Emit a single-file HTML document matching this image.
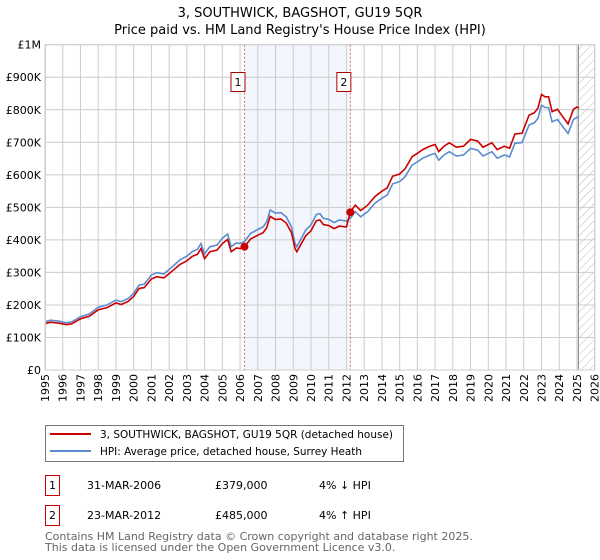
<!DOCTYPE html>
<html><head><meta charset="utf-8">
<style>
body{margin:0;background:#fff;}
svg{display:block;font-family:"DejaVu Sans","Liberation Sans",sans-serif;}
</style></head>
<body>
<svg id="chart" width="600" height="560" viewBox="0 0 600 560">
<text x="300" y="17" text-anchor="middle" font-size="13" fill="#000">3, SOUTHWICK, BAGSHOT, GU19 5QR</text>
<text x="300" y="34" text-anchor="middle" font-size="13" fill="#000">Price paid vs. HM Land Registry's House Price Index (HPI)</text>
<defs>
<pattern id="hatch" width="6" height="6" patternUnits="userSpaceOnUse" patternTransform="rotate(45)">
<line x1="0" y1="0" x2="0" y2="6" stroke="#bbb" stroke-width="1"/>
</pattern>
<clipPath id="plotclip"><rect x="45" y="44" width="550" height="327"/></clipPath>
</defs>
<g id="grid"></g>
<g id="marks" clip-path="url(#plotclip)"></g>
<g id="axes"></g>
<g id="legend">
<rect x="45.5" y="425.5" width="358" height="36" fill="#fff" stroke="#777"/>
<line x1="50" y1="434" x2="91" y2="434" stroke="#cc0000" stroke-width="2"/>
<text x="100" y="438" font-size="11" textLength="293" lengthAdjust="spacingAndGlyphs">3, SOUTHWICK, BAGSHOT, GU19 5QR (detached house)</text>
<line x1="50" y1="451" x2="91" y2="451" stroke="#5b8bd0" stroke-width="2"/>
<text x="100" y="455" font-size="11" textLength="262" lengthAdjust="spacingAndGlyphs">HPI: Average price, detached house, Surrey Heath</text>
</g>
<g id="table" font-size="11">
<rect x="45.5" y="475.5" width="14" height="20" fill="#fff" stroke="#cc0000"/>
<text x="52.5" y="489" text-anchor="middle">1</text>
<text x="87" y="489">31-MAR-2006</text>
<text x="215" y="489">£379,000</text>
<text x="319" y="489">4% ↓ HPI</text>
<rect x="45.5" y="505.5" width="14" height="20" fill="#fff" stroke="#cc0000"/>
<text x="52.5" y="519" text-anchor="middle">2</text>
<text x="87" y="519">23-MAR-2012</text>
<text x="215" y="519">£485,000</text>
<text x="319" y="519">4% ↑ HPI</text>
</g>
<text x="45" y="540" font-size="11" fill="#666">Contains HM Land Registry data © Crown copyright and database right 2025.</text>
<text x="45" y="551" font-size="11" fill="#666">This data is licensed under the Open Government Licence v3.0.</text>
</svg>
<script>
const years=[1995,1996,1997,1998,1999,2000,2001,2002,2003,2004,2005,2006,2007,2008,2009,2010,2011,2012,2013,2014,2015,2016,2017,2018,2019,2020,2021,2022,2023,2024,2025,2026];
const yTicks=[0,100000,200000,300000,400000,500000,600000,700000,800000,900000,1000000];
const yTickLabels=["£0","£100K","£200K","£300K","£400K","£500K","£600K","£700K","£800K","£900K","£1M"];
const hpiDates=[1995.0,1995.3,1995.8,1996.2,1996.5,1997.0,1997.5,1998.0,1998.5,1999.0,1999.3,1999.7,2000.0,2000.3,2000.6,2001.0,2001.3,2001.7,2002.0,2002.3,2002.6,2003.0,2003.3,2003.6,2003.8,2004.0,2004.3,2004.7,2005.0,2005.3,2005.5,2005.8,2006.0,2006.25,2006.6,2007.0,2007.3,2007.5,2007.7,2008.0,2008.3,2008.6,2008.9,2009.1,2009.2,2009.7,2010.0,2010.3,2010.5,2010.7,2011.0,2011.3,2011.6,2012.0,2012.22,2012.5,2012.8,2013.2,2013.6,2014.0,2014.3,2014.6,2015.0,2015.3,2015.7,2016.0,2016.3,2016.7,2017.0,2017.2,2017.5,2017.8,2018.2,2018.6,2019.0,2019.4,2019.7,2020.2,2020.5,2020.9,2021.2,2021.5,2021.9,2022.3,2022.6,2022.8,2023.0,2023.2,2023.4,2023.6,2023.9,2024.2,2024.5,2024.8,2025.0,2025.1];
const hpiValues=[148,153,150,145,148,164,172,193,200,215,210,220,236,261,264,292,299,295,309,323,338,350,364,371,389,357,379,384,405,418,379,391,389,395,420,432,440,456,492,482,484,471,440,389,379,430,446,478,481,466,463,453,461,458,466,487,471,487,512,528,538,572,579,594,630,640,651,661,666,645,661,671,658,661,681,676,658,671,651,661,655,697,699,753,760,774,814,807,807,763,770,748,727,770,777,774];
const saleDates=[2006.25,2012.22];
const salePrices=[379000,485000];
const saleLabels=["1","2"];

const X0=45,X1=594.7,Y0=370,Y1=44.7;
const xs=d=>X0+(d-1995)/(2026-1995)*(X1-X0);
const ys=v=>Y0-v/1000000*(Y0-Y1);
const NS="http://www.w3.org/2000/svg";
function mk(tag,attrs,parent){const e=document.createElementNS(NS,tag);for(const k in attrs)e.setAttribute(k,attrs[k]);parent.appendChild(e);return e;}
const grid=document.getElementById('grid'),marks=document.getElementById('marks'),axes=document.getElementById('axes');

let sh=mk('rect',{x:xs(saleDates[0]),y:Y1,width:xs(saleDates[1])-xs(saleDates[0]),height:Y0-Y1,fill:'#eef3fc',opacity:0.7},grid);


const hatchStart=2025.08;
let hz=mk('rect',{x:xs(hatchStart),y:Y1,width:X1-xs(hatchStart),height:Y0-Y1,fill:'url(#hatch)'},grid);



years.forEach(y=>{
  let l=mk('line',{x1:xs(y),x2:xs(y),y1:Y1,y2:Y0,stroke:'#ccc','stroke-width':1},grid);
  
  
  const tx=xs(y)+4;
  let t=mk('text',{x:tx,y:374,'text-anchor':'end','font-size':11,transform:'rotate(-90 '+tx+' 374)'},axes);
  t.textContent=y;
  
  
});
yTicks.forEach((v,i)=>{
  let l=mk('line',{x1:X0,x2:X1,y1:ys(v),y2:ys(v),stroke:'#ccc','stroke-width':1},grid);
  
  
  let t=mk('text',{x:41,y:ys(v)+4,'text-anchor':'end','font-size':11},axes);
  t.textContent=yTickLabels[i];
  
  
});
let vl=mk('line',{x1:xs(hatchStart),x2:xs(hatchStart),y1:Y1,y2:Y0,stroke:'#888','stroke-width':1},grid);



saleDates.forEach((d,i)=>{
  let l=mk('line',{x1:xs(d),x2:xs(d),y1:Y1,y2:Y0,stroke:'#e06070','stroke-width':1,'stroke-dasharray':'2,2'},grid);
  
  
  let b=mk('rect',{x:xs(d)-13.5,y:72.5,width:14,height:19,fill:'#fff',stroke:'#aa0000'},axes);
  
  
  let t=mk('text',{x:xs(d)-6.5,y:86,'text-anchor':'middle','font-size':11},axes);
  t.textContent=saleLabels[i];
  
  
});

let hp=hpiDates.map((d,i)=>xs(d).toFixed(1)+','+ys(hpiValues[i]*1000).toFixed(1)).join(' ');
let hl=mk('polyline',{points:hp,fill:'none',stroke:'#5b8bd0','stroke-width':1.6},marks);


function hpiAt(d){for(let i=1;i<hpiDates.length;i++){if(hpiDates[i]>=d){const t=(d-hpiDates[i-1])/(hpiDates[i]-hpiDates[i-1]);return (hpiValues[i-1]+t*(hpiValues[i]-hpiValues[i-1]))*1000;}}return hpiValues[hpiValues.length-1]*1000;}
const f1=salePrices[0]/hpiAt(saleDates[0]),f2=salePrices[1]/hpiAt(saleDates[1]);
let rp=hpiDates.map((d,i)=>{const f=d<saleDates[1]?f1:f2;return xs(d).toFixed(1)+','+ys(hpiValues[i]*1000*f).toFixed(1);}).join(' ');
let rl=mk('polyline',{points:rp,fill:'none',stroke:'#cc0000','stroke-width':1.6},marks);


saleDates.forEach((d,i)=>{
  let c=mk('circle',{cx:xs(d),cy:ys(salePrices[i]),r:4,fill:'#cc0000'},marks);
  
  
});
let fr=mk('rect',{x:X0+0.5,y:Y1,width:X1-X0-0.5,height:Y0-Y1,fill:'none',stroke:'#ccc'},axes);


</script>
</body></html>
